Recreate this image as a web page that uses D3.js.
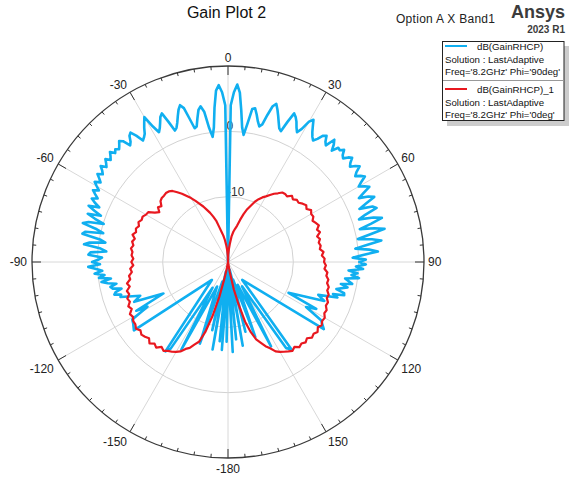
<!DOCTYPE html>
<html>
<head>
<meta charset="utf-8">
<script src="https://cdn.jsdelivr.net/npm/d3@7"></script>
<style>
body { margin: 0; background: #fff; }
svg text { font-family: "Liberation Sans", Arial, sans-serif; }
</style>
</head>
<body>
<div id="chart"></div>
<script>
// radial axis (dB) and angle axis (deg)
var ringValues = [-10, 0];
var ringLabels = ["-10", "0"];
var angleTicks = [0, 30, 60, 90, 120, 150, 180, -150, -120, -90, -60, -30];
var angleLabels = ["0", "30", "60", "90", "120", "150", "-180", "-150", "-120", "-90", "-60", "-30"];

// dB(GainRHCP), Phi='90deg' -- lower left part, theta -180..-91
var blueLeftTheta = [-180, -179, -178, -176, -175, -174, -172, -170, -168, -167,
  -164, -161, -156, -152, -149, -146.5, -145, -138, -126, -123,
  -121, -119, -118, -116, -113, -111, -108, -107, -106, -105,
  -104, -103, -102, -101, -100, -99, -98, -97, -96, -95,
  -94, -93, -92, -91];
var blueLeftGain = [-16.9, -7.8, -17.7, -6.5, -19.2, -7.8, -18.5, -6.4, -18.5, -9.3,
  -16.9, -6.8, -15.9, -4.8, -15.4, -4.1, -3.3, -16.3, -2.2, -2.7,
  -2.9, -5.9, -4.1, -9.0, -4.4, -5.6, -2.7, -2.9, -1.9, -2.2,
  -3.2, -1.9, -1.6, -2.6, -1.3, -0.4, -1.9, -0.1, -1.0, 0.5,
  -0.7, 0.2, 1.4, -0.4];
// upper part, theta -90..90 every degree
var blueTopGain = [0.8,
  -0.1, -0.7, 1.4, 1.1, -1.3, -0.4, 2.2, 1.4, -1.0, -0.1,
  2.7, 2.3, -0.4, 0.7, 3.0, 2.2, -0.1, 1.4, 2.7, 0.7,
  1.9, 3.0, 1.4, 2.3, 3.0, 2.2, 2.8, 3.4, 2.6, 3.2,
  3.8, 3.0, 3.5, 4.1, 3.4, 3.8, 4.4, 3.6, 4.0, 4.5,
  3.8, 4.2, 4.7, 4.0, 4.4, 4.0, 4.4, 4.9, 4.5, 3.3,
  3.7, 4.5, 4.8, 3.9, 2.7, 3.0, 3.4, 4.2, 4.9, 5.6,
  3.7, 2.5, 3.0, 3.7, 4.5, 4.9, 3.3, 1.7, 2.0, 2.7,
  3.6, 4.5, 5.1, 4.5, 2.7, 1.1, 1.3, 2.5, 3.7, 4.2,
  3.3, 0.7, -0.7, 0.7, 3.7, 6.3, 7.1, 6.0, 4.0, -30,
  4.0, 6.0, 7.2, 6.0, 3.3, 0.7, -0.4, 1.4, 3.7, 3.9,
  3.0, 2.0, 1.3, 1.7, 3.3, 4.8, 5.3, 4.5, 3.6, 2.7,
  1.9, 1.6, 3.3, 4.9, 4.5, 3.9, 3.1, 2.5, 3.3, 4.8,
  5.4, 4.5, 3.7, 3.1, 2.7, 3.3, 4.2, 4.5, 3.7, 3.3,
  4.8, 4.2, 3.3, 4.3, 4.2, 4.7, 4.0, 3.7, 4.4, 4.8,
  4.1, 3.7, 4.4, 4.9, 4.0, 3.5, 4.2, 4.7, 3.8, 3.1,
  3.9, 4.5, 3.3, 2.3, 3.7, 4.5, 3.0, 1.7, 3.7, 4.2,
  2.2, 1.1, 3.3, 4.5, 2.7, 0.8, 3.0, 4.5, 2.2, 0.2,
  2.3, 3.7, 1.4, -0.4, 1.7, 3.0, 0.7, -0.9, 1.1, 0.1];
// lower right part, theta 91..180
var blueRightTheta = [91, 92, 93, 94, 95, 96, 97, 98, 100, 101,
  102, 104, 105, 106, 107, 108, 110, 112, 117, 118,
  120, 122, 125, 141.5, 144, 146, 150, 153, 157, 160,
  164, 166, 168, 170, 172, 174, 176, 177, 179, 180];
var blueRightGain = [1.1, -0.4, 0.7, -1.5, -0.1, -1.0, 0.2, -1.9, -0.7, -2.4,
  -1.3, -2.9, -1.6, -1.5, -3.2, -2.4, -5.3, -4.1, -9.6, -4.7,
  -6.2, -3.2, -2.1, -16.5, -3.5, -4.1, -15.7, -5.5, -16.2, -7.8,
  -17.2, -9.0, -18.8, -7.0, -18.2, -8.1, -19.2, -6.2, -18.5, -16.9];

// dB(GainRHCP)_1, Phi='0deg', theta -180..180 every 2 degrees
var redGain = [-24, -24, -23, -22, -21, -19.1, -17.6, -14.5, -11.4, -8.7,
  -7.0, -6.4, -5.6, -5.2, -4.5, -4.1, -3.8, -3.6, -3.2, -3.5,
  -2.9, -3.2, -2.7, -3.2, -2.9, -2.7, -3.0, -2.6, -2.9, -2.9,
  -3.2, -3.0, -3.6, -3.3, -3.8, -3.6, -4.1, -3.9, -4.5, -4.2,
  -4.8, -4.7, -5.2, -5.0, -5.5, -5.2, -5.5, -5.2, -5.3, -5.0,
  -5.3, -5.0, -5.3, -4.8, -5.2, -5.0, -5.3, -5.0, -5.3, -5.2,
  -5.5, -5.6, -6.5, -7.0, -6.4, -6.7, -6.1, -5.9, -5.9, -5.8,
  -5.9, -6.2, -6.8, -7.4, -8.1, -8.7, -9.4, -10.1, -10.7, -11.4,
  -12.0, -12.7, -13.4, -14.5, -15.3, -15.9, -16.6, -17.4, -18.2, -19.1,
  -24,
  -18.9, -18.0, -17.1, -16.0, -15.3, -14.8, -14.3, -13.3, -12.3, -11.4,
  -10.7, -9.9, -9.3, -8.8, -8.4, -7.9, -7.4, -7.0, -6.5, -6.4,
  -6.5, -5.9, -6.2, -5.8, -5.9, -5.5, -5.2, -5.5, -5.0, -5.3,
  -5.2, -5.6, -5.3, -5.0, -5.5, -5.2, -5.8, -5.5, -5.8, -5.6,
  -5.8, -5.3, -5.6, -5.2, -5.3, -5.0, -5.2, -4.7, -4.8, -4.4,
  -4.5, -4.1, -4.2, -3.8, -3.9, -3.5, -3.6, -3.2, -3.3, -2.9,
  -3.0, -2.7, -3.0, -2.6, -2.9, -2.7, -3.2, -2.9, -3.2, -3.0,
  -3.5, -3.2, -3.5, -3.8, -4.1, -4.5, -5.3, -5.9, -6.7, -7.4,
  -8.7, -10.5, -13.3, -15.7, -18.5, -21, -22, -23, -24, -24];

(function(){
var width = 573, height = 477;
var cx = 228, cy = 262, R = 196;
var blue = "#10aff0", red = "#e8181f";

var svg = d3.select("#chart")
    .append("svg")
    .attr("width", width)
    .attr("height", height);

// scales: gain -> radius, theta -> angle (0 at top, clockwise)
var r = d3.scaleLinear().domain([-20, 10]).range([0, R]).clamp(true);
var ang = d3.scaleLinear().domain([-180, 180]).range([-Math.PI, Math.PI]);

var g = svg.append("g")
    .attr("transform", "translate(" + cx + "," + cy + ")");

// grid rings
g.selectAll(".ring")
    .data(ringValues)
    .enter().append("circle")
    .attr("r", function (d) { return r(d); })
    .attr("fill", "none")
    .attr("stroke", "#d2d2d2")
    .attr("stroke-width", 1);

// spokes every 30 deg
g.selectAll(".spoke")
    .data(angleTicks)
    .enter().append("line")
    .attr("x1", 0).attr("y1", 0)
    .attr("x2", function (d) { return R * Math.sin(ang(d)); })
    .attr("y2", function (d) { return -R * Math.cos(ang(d)); })
    .attr("stroke", "#d8d8d8")
    .attr("stroke-width", 1);

// radial labels
g.selectAll(".rlab")
    .data(ringValues)
    .enter().append("text")
    .attr("x", function (d, i) { return i == 0 ? -1 : -1.5; })
    .attr("y", function (d) { return -r(d) - 1; })
    .attr("font-size", "12px")
    .attr("fill", "#333")
    .text(function (d, i) { return ringLabels[i]; });

// build series
var blueData = [];
blueLeftTheta.forEach(function (t, i) { blueData.push({ t: t, v: blueLeftGain[i] }); });
var topTheta = d3.range(-90, 91);
topTheta.forEach(function (t, i) { blueData.push({ t: t, v: blueTopGain[i] }); });
blueRightTheta.forEach(function (t, i) { blueData.push({ t: t, v: blueRightGain[i] }); });

var redTheta = d3.range(-180, 181, 2);
var redData = redTheta.map(function (t, i) { return { t: t, v: redGain[i] }; });

var line = d3.lineRadial()
    .angle(function (d) { return ang(d.t); })
    .radius(function (d) { return r(d.v); });

g.append("path")
    .datum(blueData)
    .attr("fill", "none")
    .attr("stroke", blue)
    .attr("stroke-width", 2.6)
    .attr("stroke-linejoin", "round")
    .attr("d", line);

g.append("path")
    .datum(redData)
    .attr("fill", "none")
    .attr("stroke", red)
    .attr("stroke-width", 2.2)
    .attr("stroke-linejoin", "round")
    .attr("d", line);

// outer circle and ticks
g.append("circle")
    .attr("r", R)
    .attr("fill", "none")
    .attr("stroke", "#3a3a3a")
    .attr("stroke-width", 1.3);

var ticks = d3.range(-180, 180, 5);
g.selectAll(".tick")
    .data(ticks)
    .enter().append("line")
    .attr("x1", function (d) { var l = d % 30 == 0 ? 9 : 3.5; return (R - l) * Math.sin(ang(d)); })
    .attr("y1", function (d) { var l = d % 30 == 0 ? 9 : 3.5; return -(R - l) * Math.cos(ang(d)); })
    .attr("x2", function (d) { return R * Math.sin(ang(d)); })
    .attr("y2", function (d) { return -R * Math.cos(ang(d)); })
    .attr("stroke", "#333")
    .attr("stroke-width", 1);

// angle labels
g.selectAll(".alab")
    .data(angleTicks)
    .enter().append("text")
    .attr("font-size", "12px")
    .attr("fill", "#222")
    .attr("text-anchor", function (d) {
        var s = Math.sin(ang(d));
        return s > 0.01 ? "start" : (s < -0.01 ? "end" : "middle");
    })
    .attr("x", function (d) {
        var s = Math.sin(ang(d));
        return (R + 4) * s + (s < -0.01 ? -1 : 0);
    })
    .attr("y", function (d) {
        var c = Math.cos(ang(d));
        var y = -(R + 4) * c;
        if (c > 0.01) return y;
        if (c < -0.01) return y + 10.5;
        return y + 4.3;
    })
    .text(function (d, i) { return angleLabels[i]; });

// title and header texts
svg.append("text")
    .attr("x", 226.5)
    .attr("y", 18)
    .attr("text-anchor", "middle")
    .attr("font-size", "16px")
    .attr("fill", "#111")
    .text("Gain Plot 2");

svg.append("text")
    .attr("x", 396)
    .attr("y", 22.5)
    .attr("font-size", "12px")
    .attr("fill", "#222")
    .attr("textLength", 99)
    .text("Option A X Band1");

svg.append("text")
    .attr("x", 565)
    .attr("y", 18.3)
    .attr("text-anchor", "end")
    .attr("font-size", "18px")
    .attr("font-weight", "bold")
    .attr("fill", "#3c3c3c")
    .text("Ansys");

svg.append("text")
    .attr("x", 565)
    .attr("y", 33)
    .attr("text-anchor", "end")
    .attr("font-size", "10px")
    .attr("font-weight", "bold")
    .attr("fill", "#3c3c3c")
    .text("2023 R1");

// legend
var leg = svg.append("g");
leg.append("rect")
    .attr("x", 447).attr("y", 46).attr("width", 122).attr("height", 80)
    .attr("fill", "#cccccc");
leg.append("rect")
    .attr("x", 442.5).attr("y", 41.5).attr("width", 121.5).attr("height", 79)
    .attr("fill", "#fff")
    .attr("stroke", "#222")
    .attr("stroke-width", 1);
leg.append("line")
    .attr("x1", 443).attr("x2", 563.5).attr("y1", 80.5).attr("y2", 80.5)
    .attr("stroke", "#999");

var legendNames = ["dB(GainRHCP)", "dB(GainRHCP)_1"];
var legendColors = [blue, red];
var legendSub = ["Solution : LastAdaptive", "Solution : LastAdaptive"];
var legendFreq = ["Freq='8.2GHz' Phi='90deg'", "Freq='8.2GHz' Phi='0deg'"];
var legendTop = [46, 89];

legendNames.forEach(function (name, i) {
    var y0 = legendTop[i];
    leg.append("line")
        .attr("x1", 445).attr("x2", 467)
        .attr("y1", y0).attr("y2", y0)
        .attr("stroke", legendColors[i])
        .attr("stroke-width", 2);
    leg.append("text")
        .attr("x", 477).attr("y", y0 + 4.3)
        .attr("font-size", "9.7px").attr("fill", "#111")
        .text(name);
    leg.append("text")
        .attr("x", 445).attr("y", y0 + 17)
        .attr("font-size", "9.7px").attr("fill", "#111")
        .text(legendSub[i]);
    leg.append("text")
        .attr("x", 445).attr("y", y0 + 29.3)
        .attr("font-size", "9.7px").attr("fill", "#111")
        .text(legendFreq[i]);
});
})();
</script>
</body>
</html>
